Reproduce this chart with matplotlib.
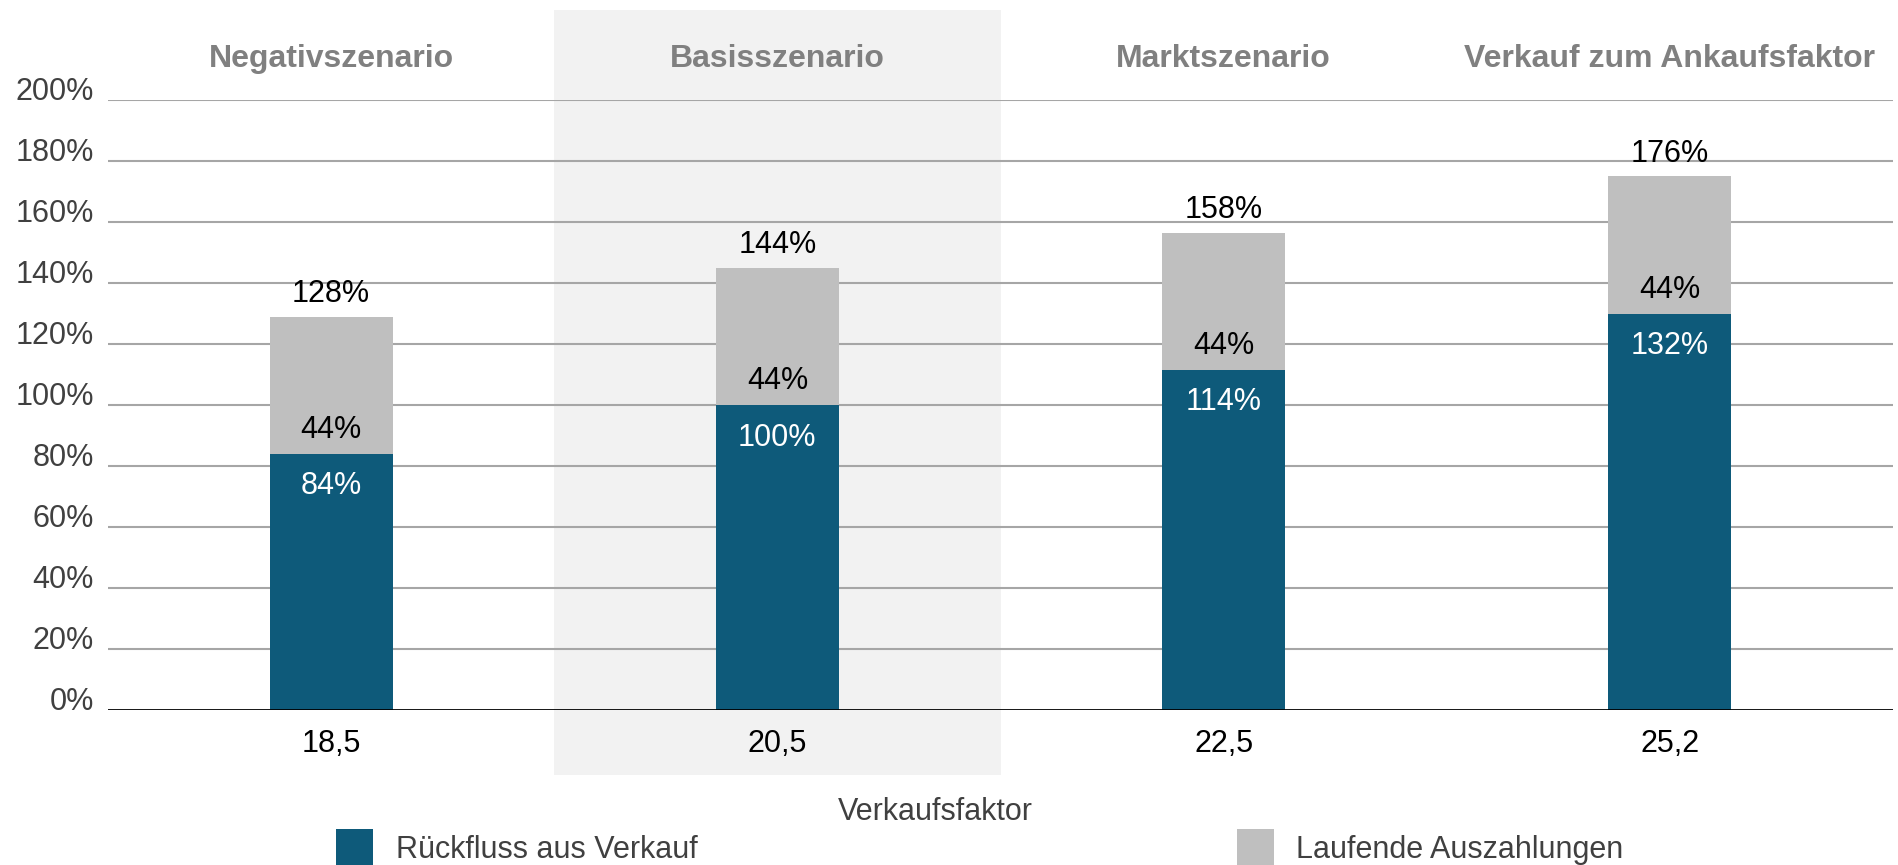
import matplotlib
matplotlib.use('Agg')
import matplotlib.pyplot as plt
import matplotlib.transforms as mtransforms
from matplotlib.patches import Rectangle
import numpy as np

plt.rcParams['font.family'] = ['Liberation Sans', 'DejaVu Sans']

scenarios = ['Negativszenario', 'Basisszenario', 'Marktszenario', 'Verkauf zum Ankaufsfaktor']
factors = ['18,5', '20,5', '22,5', '25,2']
# bar heights as drawn in the picture
rueckfluss = [84, 100, 111.5, 130]
laufend = [45, 45, 45, 45]
# label texts as printed
rueckfluss_lbl = [84, 100, 114, 132]
laufend_lbl = [44, 44, 44, 44]
totals_lbl = [128, 144, 158, 176]

blue = '#0e5a7a'
grey = '#bfbfbf'
W, H = 1898, 865

fig = plt.figure(figsize=(W / 100, H / 100), dpi=100)
fig.patch.set_facecolor('white')
ax = fig.add_axes([108 / W, 1 - 710 / H, (1893 - 108) / W, (710 - 100) / H])
ax.set_facecolor('none')

x = np.arange(len(scenarios))
bw = 0.276

# highlighted column behind "Basisszenario"
trans = mtransforms.blended_transform_factory(ax.transData, fig.transFigure)
ax.add_patch(Rectangle((0.5, 1 - 775 / H), 1.0, (775 - 10) / H, transform=trans,
                       facecolor='#f2f2f2', edgecolor='none', clip_on=False, zorder=0))

for yv in range(20, 201, 20):
    ax.axhline(yv, color='#a6a6a6', linewidth=1.5, zorder=1)
ax.axhline(0, color='black', linewidth=2, zorder=4)

ax.bar(x, rueckfluss, width=bw, color=blue, zorder=3)
ax.bar(x, laufend, width=bw, bottom=rueckfluss, color=grey, zorder=3)

for i in range(len(x)):
    top = rueckfluss[i] + laufend[i]
    ax.text(x[i], rueckfluss[i] - 13.3, f'{rueckfluss_lbl[i]}%', ha='center', va='baseline',
            color='white', fontsize=22, zorder=5)
    ax.text(x[i], rueckfluss[i] + 5.1, f'{laufend_lbl[i]}%', ha='center', va='baseline',
            color='black', fontsize=22, zorder=5)
    ax.text(x[i], top + 4.7, f'{totals_lbl[i]}%', ha='center', va='baseline',
            color='black', fontsize=22, zorder=5)
    ax.text(x[i], 1 - 67 / H, scenarios[i], transform=trans, ha='center', va='baseline',
            color='#808080', fontsize=23, fontweight='bold')

ax.set_xlim(-0.5, 3.5)
ax.set_ylim(0, 200)
ax.set_xticks(x)
ax.set_xticklabels(factors, fontsize=22, color='black')
ax.set_yticks(range(0, 201, 20))
ax.set_yticklabels([f'{v}%' for v in range(0, 201, 20)], fontsize=22, color='#404040')
for t in ax.get_yticklabels():
    t.set_verticalalignment('baseline')
ax.tick_params(axis='x', length=0, pad=14)
ax.tick_params(axis='y', length=0, pad=10)
for s in ax.spines.values():
    s.set_visible(False)

fig.text(935 / W, 1 - 820 / H, 'Verkaufsfaktor', ha='center', va='baseline',
         fontsize=22, color='#404040')

# legend
fig.add_artist(Rectangle((336 / W, 0), 37 / W, 36 / H, transform=fig.transFigure,
                         facecolor=blue, edgecolor='none'))
fig.text(396 / W, 1 - 858 / H, 'Rückfluss aus Verkauf', ha='left', va='baseline',
         fontsize=22, color='#404040')
fig.add_artist(Rectangle((1237 / W, 0), 37 / W, 36 / H, transform=fig.transFigure,
                         facecolor=grey, edgecolor='none'))
fig.text(1296 / W, 1 - 858 / H, 'Laufende Auszahlungen', ha='left', va='baseline',
         fontsize=22, color='#404040')

fig.savefig('out.png', dpi=100, facecolor='white')
